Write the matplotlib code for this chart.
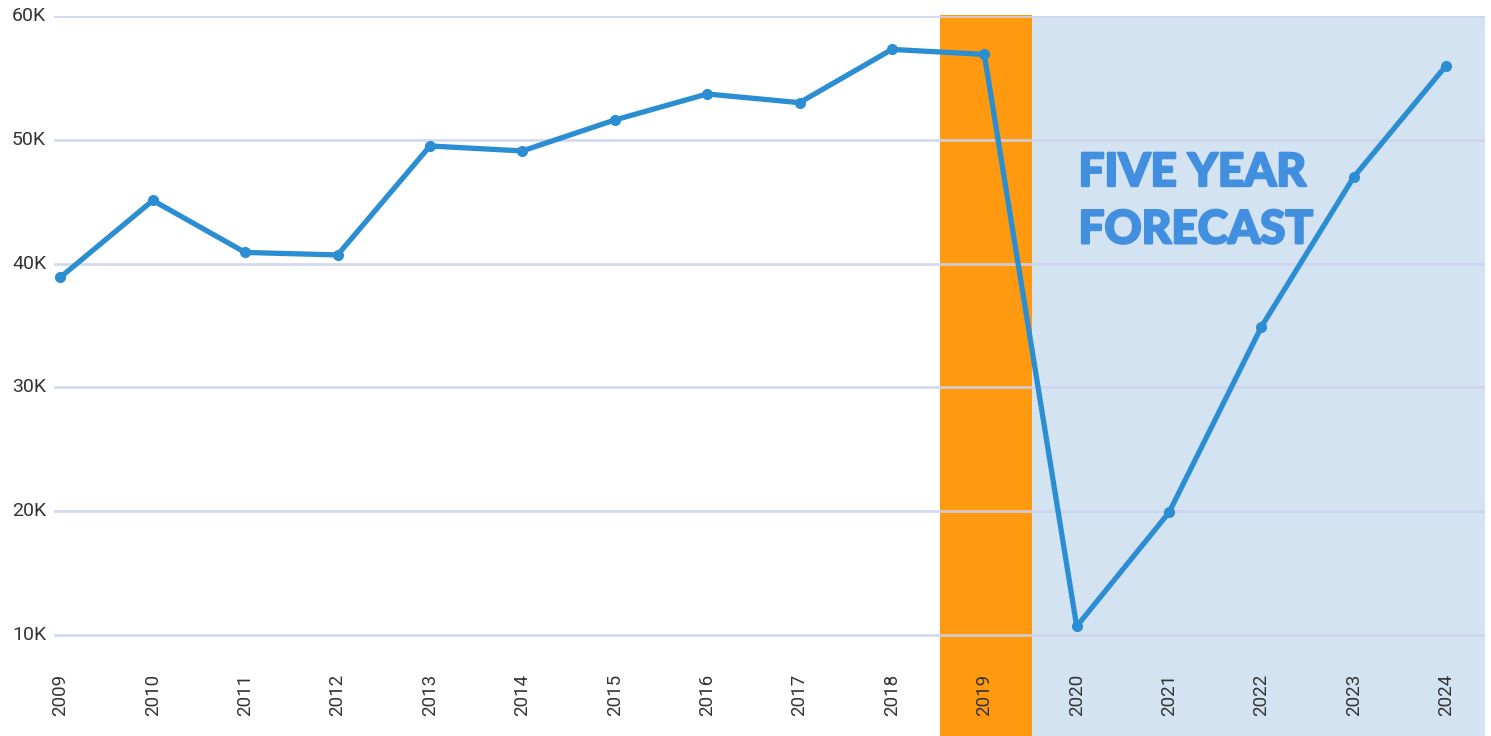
import matplotlib
matplotlib.use("Agg")
import matplotlib.pyplot as plt
import matplotlib.patheffects as pe
from matplotlib.transforms import blended_transform_factory

years = [2009, 2010, 2011, 2012, 2013, 2014, 2015, 2016, 2017, 2018,
         2019, 2020, 2021, 2022, 2023, 2024]
values = [38.9, 45.1, 40.9, 40.7, 49.5, 49.1, 51.6, 53.7, 53.0, 57.3,
          56.9, 10.7, 19.9, 34.9, 47.0, 56.0]  # thousands
y_ticks = [10, 20, 30, 40, 50, 60]
y_tick_labels = ["10K", "20K", "30K", "40K", "50K", "60K"]
highlight_year = 2019
forecast_start = 2020
annotation = "FIVE YEAR\nFORECAST"

W, H = 1491, 736
fig = plt.figure(figsize=(W / 100, H / 100), dpi=100)
ax = fig.add_axes([54 / W, 0, (1485 - 54) / W, (H - 16) / H])

ax.set_xlim(2008.93, 2024.42)
ax.set_ylim(1.84, 60)

for s in ax.spines.values():
    s.set_visible(False)
ax.set_xticks([])
ax.set_yticks([])

# bands
ax.axvspan(highlight_year - 0.48, highlight_year + 0.52, ymin=0, ymax=1.002,
           color="#FF9A10", zorder=1, lw=0, clip_on=False)
ax.axvspan(forecast_start - 0.48, 2024.42, color="#D4E3F2", zorder=1, lw=0)

# grid
for t in y_ticks:
    ax.axhline(t, color="#CBD3EE", lw=2, alpha=0.85, zorder=1.5)

# y labels
ty = blended_transform_factory(fig.transFigure, ax.transData)
for t, lab in zip(y_ticks, y_tick_labels):
    ax.text(12 / W, t, lab, transform=ty, ha="left", va="center",
            fontsize=14, color="#333333", family="Roboto")

# x labels inside axes
tx = blended_transform_factory(ax.transData, ax.transAxes)
for yr in years:
    ax.text(yr, 0.057, str(yr), transform=tx, rotation=90, ha="center",
            va="center", fontsize=13.5, color="#333333", family="Roboto")

ax.plot(years, values, color="#2B8ED3", lw=3.8, marker="o", markersize=7,
        zorder=3, solid_joinstyle="round")

ax.text(2020.02, 45.0, annotation, ha="left", va="center", fontsize=33,
        fontweight="black", family="Lato", color="#418FDE",
        linespacing=1.45, zorder=2,
        path_effects=[pe.withStroke(linewidth=1.6, foreground="#418FDE")])

fig.savefig("out.png", dpi=100)
